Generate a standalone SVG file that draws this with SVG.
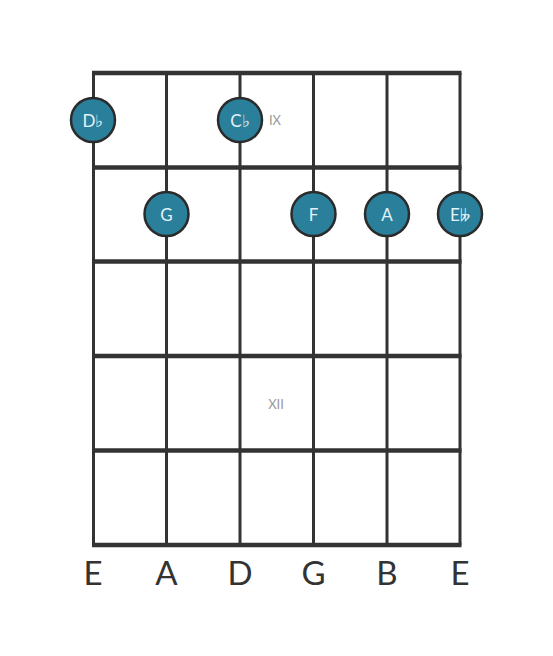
<svg xmlns="http://www.w3.org/2000/svg" width="553" height="656" viewBox="0 0 553 656">
<style>
.fret{stroke:#333;stroke-width:4.5}
.str{stroke:#333;stroke-width:3}
.dot circle{fill:#2a7f9a;stroke:#2b2b2b;stroke-width:2.5}
.dot text{fill:#e3f2f7;font-family:Lato,"Open Sans",sans-serif;font-size:17px;text-anchor:middle;dominant-baseline:central}
.pos{fill:#999;font-family:Lato,"Open Sans",sans-serif;font-size:13px;text-anchor:middle;dominant-baseline:central}
.tun{fill:#333;font-family:Lato,"Open Sans",sans-serif;font-size:33px;text-anchor:middle}
</style>
<rect width="553" height="656" fill="#fff"/>
<g id="connectors">
<line class="str" x1="93.5" y1="73" x2="93.5" y2="545"/>
<line class="str" x1="166.5" y1="73" x2="166.5" y2="545"/>
<line class="str" x1="240" y1="73" x2="240" y2="545"/>
<line class="str" x1="313.5" y1="73" x2="313.5" y2="545"/>
<line class="str" x1="387" y1="73" x2="387" y2="545"/>
<line class="str" x1="460" y1="73" x2="460" y2="545"/>
<line class="fret" x1="92" y1="73" x2="461.5" y2="73"/>
<line class="fret" x1="92" y1="167.5" x2="461.5" y2="167.5"/>
<line class="fret" x1="92" y1="261.5" x2="461.5" y2="261.5"/>
<line class="fret" x1="92" y1="356" x2="461.5" y2="356"/>
<line class="fret" x1="92" y1="450.5" x2="461.5" y2="450.5"/>
<line class="fret" x1="92" y1="545" x2="461.5" y2="545"/>
</g>
<text class="pos" x="275" y="120">IX</text>
<text class="pos" x="276" y="404">XII</text>
<g id="n-db" class="dot"><circle cx="93" cy="120" r="22"/><text x="93" y="120">D♭</text></g>
<g id="n-cb" class="dot"><circle cx="240" cy="120" r="22"/><text x="240" y="120">C♭</text></g>
<g id="n-g" class="dot"><circle cx="166.5" cy="214" r="22"/><text x="166.5" y="214">G</text></g>
<g id="n-f" class="dot"><circle cx="313.5" cy="214" r="22"/><text x="313.5" y="214">F</text></g>
<g id="n-a" class="dot"><circle cx="387" cy="214" r="22"/><text x="387" y="214">A</text></g>
<g id="n-ebb" class="dot"><circle cx="460" cy="214" r="22"/><text x="460" y="214">E𝄫</text></g>
<g id="tuning">
<text class="tun" x="93" y="585">E</text>
<text class="tun" x="166.5" y="585">A</text>
<text class="tun" x="240" y="585">D</text>
<text class="tun" x="313.5" y="585">G</text>
<text class="tun" x="387" y="585">B</text>
<text class="tun" x="460" y="585">E</text>
</g>
</svg>
